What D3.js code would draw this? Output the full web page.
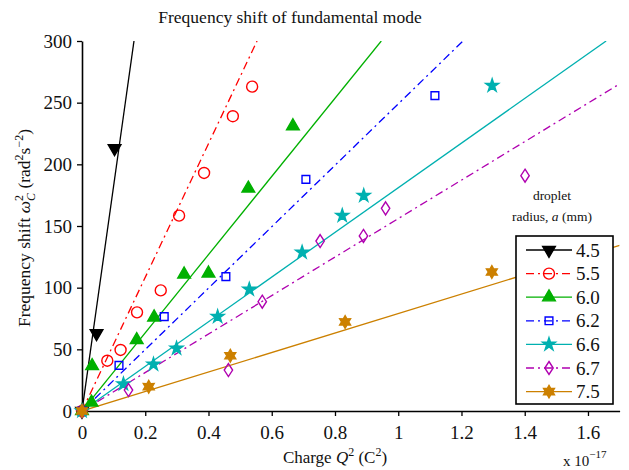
<!DOCTYPE html>
<html>
<head>
<meta charset="utf-8">
<script src="https://cdn.jsdelivr.net/npm/d3@7"></script>
<style>
  body { margin: 0; background: #fff; }
  svg text { font-family: "Liberation Serif", "Times New Roman", serif; fill: #111; }
</style>
</head>
<body>
<div id="chart"></div>
<script>
// droplet radii (mm) and series styling keys
const radii = ["4.5", "5.5", "6.0", "6.2", "6.6", "6.7", "7.5"];
const colors = ["#000000", "#ff0000", "#00b000", "#0000ff", "#00b0b0", "#b000b0", "#cc8000"];
const dashes = [null, "8,4,2,4", null, "8,4,2,4", null, "8,4,2,4", null];
const markers = ["tri", "circle", "triUp", "square", "star", "diamond", "hex"];

// charge Q^2 (x 1e-17 C^2) and omega_C^2 for each droplet
const q45 = [0, 0.046, 0.103];
const w45 = [0, 63, 213];
const q55 = [0, 0.080, 0.122, 0.174, 0.249, 0.307, 0.386, 0.477, 0.538];
const w55 = [0, 40.8, 49.5, 80, 97.8, 158.4, 193, 239, 263];
const q60 = [0, 0.03, 0.032, 0.173, 0.228, 0.323, 0.400, 0.526, 0.667];
const w60 = [0, 7, 36.5, 57.6, 76, 110.8, 111.6, 180.5, 231];
const q62 = [0, 0.117, 0.260, 0.455, 0.708, 1.116];
const w62 = [0, 37, 76.5, 109, 187.8, 255.7];
const q66 = [0, 0.131, 0.226, 0.299, 0.429, 0.529, 0.696, 0.823, 0.891, 1.297];
const w66 = [0, 21.9, 37.8, 50.8, 76.5, 98.6, 128.6, 158.4, 174.6, 263.8];
const q67 = [0, 0.147, 0.463, 0.570, 0.753, 0.890, 0.960, 1.401];
const w67 = [0, 17, 33.2, 88.6, 137.8, 141.9, 164.3, 190.8];
const q75 = [0, 0.211, 0.469, 0.832, 1.296];
const w75 = [0, 19.7, 44.8, 72.2, 112.7];

// slope of the fitted line through the origin
const fitSlopes = [1825, 542, 317, 249, 181, 156, 79];

const xTicks = [0, 0.2, 0.4, 0.6, 0.8, 1, 1.2, 1.4, 1.6];
const yTicks = [0, 50, 100, 150, 200, 250, 300];

const qs = [q45, q55, q60, q62, q66, q67, q75];
const ws = [w45, w55, w60, w62, w66, w67, w75];

const serif = "'Liberation Serif', 'Times New Roman', serif";
const width = 629, height = 470;
const margin = {left: 82, right: 10, top: 41, bottom: 59};

const svg = d3.select("#chart").append("svg")
    .attr("width", width)
    .attr("height", height)
    .attr("font-family", serif);

const x = d3.scaleLinear().domain([0, 1.7]).range([margin.left, 619.6]);
const y = d3.scaleLinear().domain([0, 300]).range([411, margin.top]);

svg.append("defs").append("clipPath").attr("id", "clip")
    .append("rect")
    .attr("x", x(0)).attr("y", y(300))
    .attr("width", x(1.7) - x(0)).attr("height", y(0) - y(300));

// title
svg.append("text")
    .attr("x", 290).attr("y", 23)
    .attr("text-anchor", "middle")
    .style("font-size", "17.5px")
    .text("Frequency shift of fundamental mode");

// axes
const xAxis = svg.append("g")
    .attr("transform", `translate(0,${y(0)})`)
    .call(d3.axisBottom(x).tickValues(xTicks).tickSize(5).tickSizeOuter(0).tickFormat(d3.format("")));
const yAxis = svg.append("g")
    .attr("transform", `translate(${x(0)},0)`)
    .call(d3.axisLeft(y).tickValues(yTicks).tickSize(5).tickSizeOuter(0));

[xAxis, yAxis].forEach(a => {
    a.attr("font-family", serif).attr("font-size", 19);
    a.select(".domain").attr("stroke", "#000").attr("stroke-width", 1.6);
    a.selectAll(".tick line").attr("stroke", "#000").attr("stroke-width", 1.3);
    a.selectAll(".tick text").attr("fill", "#111");
});
xAxis.selectAll(".tick text").attr("dy", "1.05em");
yAxis.selectAll(".tick text").attr("dx", "-2px");

// axis labels
svg.append("text")
    .attr("x", 335).attr("y", 463)
    .attr("text-anchor", "middle")
    .style("font-size", "17px")
    .html('Charge <tspan font-style="italic">Q</tspan><tspan dy="-7" font-size="12px">2</tspan><tspan dy="7"> (C</tspan><tspan dy="-7" font-size="12px">2</tspan><tspan dy="7">)</tspan>');

svg.append("text")
    .attr("transform", "translate(30,228) rotate(-90)")
    .attr("text-anchor", "middle")
    .style("font-size", "17.5px")
    .html('Frequency shift <tspan font-style="italic">ω</tspan><tspan dy="-7" font-size="12px">2</tspan><tspan dx="-6" dy="12" font-size="12px" font-style="italic">C</tspan><tspan dy="-5"> (rad</tspan><tspan dy="-7" font-size="12px">2</tspan><tspan dy="7">s</tspan><tspan dy="-7" font-size="12px">−2</tspan><tspan dy="7">)</tspan>');

svg.append("text")
    .attr("x", 563).attr("y", 466)
    .style("font-size", "15px")
    .html('x 10<tspan dy="-8" font-size="11px">−17</tspan>');

// marker shapes
function markerPath(kind) {
    switch (kind) {
        case "tri": return d3.symbol(d3.symbolTriangle, 70)();
        case "triUp": return d3.symbol(d3.symbolTriangle, 70)();
        case "circle": return d3.symbol(d3.symbolCircle, 95)();
        case "square": return d3.symbol(d3.symbolSquare, 60)();
        case "star": return d3.symbol(d3.symbolStar, 52)();
        case "diamond": {
            return "M0,-6.5L4.2,0L0,6.5L-4.2,0Z";
        }
        case "hex": {
            let p = [];
            for (let k = 0; k < 12; k++) {
                const r = k % 2 === 0 ? 6.3 : 3.6;
                const a = k * Math.PI / 6;
                p.push([r * Math.sin(a), -r * Math.cos(a)]);
            }
            return "M" + p.map(d => d.join(",")).join("L") + "Z";
        }
    }
}
const filled = {tri: true, triUp: true, circle: false, square: false, star: true, diamond: false, hex: true};

function drawMarker(g, kind, color, px, py) {
    const rot = kind === "tri" ? 180 : 0;
    g.append("path")
        .attr("d", markerPath(kind))
        .attr("transform", `translate(${px},${py}) rotate(${rot})`)
        .attr("fill", filled[kind] ? color : "#fff")
        .attr("fill-opacity", filled[kind] ? 1 : 0)
        .attr("stroke", color)
        .attr("stroke-width", 1.4);
}

// fit lines
const plot = svg.append("g").attr("clip-path", "url(#clip)");
radii.forEach((r, i) => {
    const xEnd = Math.min(1.7, 300 / fitSlopes[i]);
    plot.append("line")
        .attr("x1", x(0)).attr("y1", y(0))
        .attr("x2", x(xEnd)).attr("y2", y(fitSlopes[i] * xEnd))
        .attr("stroke", colors[i])
        .attr("stroke-width", 1.3)
        .attr("stroke-dasharray", dashes[i]);
});

// data markers
const pts = svg.append("g");
radii.forEach((r, i) => {
    qs[i].forEach((q, j) => {
        drawMarker(pts, markers[i], colors[i], x(q), y(ws[i][j]));
    });
});

// legend
svg.append("text")
    .attr("x", 552).attr("y", 200)
    .attr("text-anchor", "middle")
    .style("font-size", "13.5px")
    .text("droplet");
svg.append("text")
    .attr("x", 552).attr("y", 221)
    .attr("text-anchor", "middle")
    .style("font-size", "13.5px")
    .html('radius, <tspan font-style="italic">a</tspan> (mm)');

const legend = svg.append("g").attr("transform", "translate(516,236)");
legend.append("rect")
    .attr("width", 97).attr("height", 168)
    .attr("fill", "#fff")
    .attr("stroke", "#000")
    .attr("stroke-width", 1.6);
radii.forEach((r, i) => {
    const ly = 14 + i * 23.6;
    legend.append("line")
        .attr("x1", 10).attr("x2", 56)
        .attr("y1", ly).attr("y2", ly)
        .attr("stroke", colors[i])
        .attr("stroke-width", 1.3)
        .attr("stroke-dasharray", dashes[i]);
    drawMarker(legend, markers[i], colors[i], 33, ly);
    legend.append("text")
        .attr("x", 60).attr("y", ly + 6.5)
        .style("font-size", "19px")
        .text(r);
});
</script>
</body>
</html>
